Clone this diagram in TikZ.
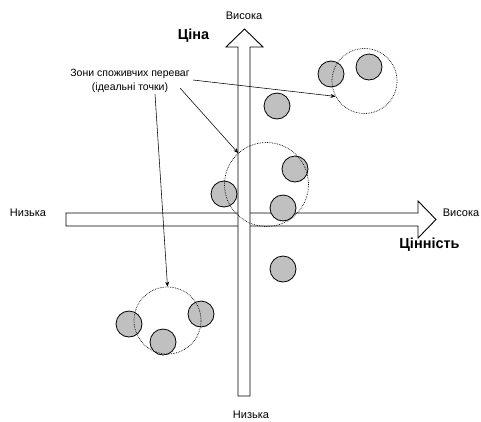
\documentclass[tikz,border=0pt]{standalone}
\usepackage{fontspec}
\setmainfont{Liberation Sans}
\usetikzlibrary{arrows.meta}
\definecolor{dotgray}{RGB}{192,192,192}
\tikzset{
  axisarrow/.style={draw=black, line width=0.9pt, fill=white, line join=miter},
  point/.style={circle, draw=black, line width=0.8pt, fill=dotgray, minimum size=26pt, inner sep=0pt},
  zone/.style={circle, draw=black, densely dotted, line width=0.7pt, inner sep=0pt},
  leader/.style={line width=0.55pt, -{Stealth[length=5pt,width=4pt]}},
  endlabel/.style={font=\fontsize{11}{13}\selectfont, inner sep=0pt},
  captionlabel/.style={font=\fontsize{10.5}{12.5}\selectfont, inner sep=0pt, align=center},
  axislabel/.style={font=\fontsize{14.5}{16}\selectfont\bfseries, inner sep=0pt},
}
\begin{document}
\begin{tikzpicture}[x=1pt, y=-1pt]
\useasboundingbox (0,0) rectangle (481,421);

% horizontal axis: value
\draw[axisarrow] (66,213) -- (418,213) -- (418,201) -- (436,219.5)
  -- (418,238) -- (418,226) -- (66,226) -- cycle;
% vertical axis: price
\draw[axisarrow] (238,396) -- (238,47) -- (226,47) -- (244.5,29)
  -- (263,47) -- (250,47) -- (250,396) -- cycle;

% axis labels
\node[endlabel] (ytop) at (244,16) {Висока};
\node[endlabel] (ybot) at (251,415) {Низька};
\node[endlabel] (xleft) at (28,213) {Низька};
\node[endlabel] (xright) at (461,213) {Висока};
\node[axislabel] (price) at (193.5,36) {Ціна};
\node[axislabel] (value) at (429.5,245) {Цінність};

% products
\node[point] (p1) at (331,74) {};
\node[point] (p2) at (369,67) {};
\node[point] (p3) at (277,106) {};
\node[point] (p4) at (295,169) {};
\node[point] (p5) at (224,194) {};
\node[point] (p6) at (283,208) {};
\node[point] (p7) at (283,269) {};
\node[point] (p8) at (129,324) {};
\node[point] (p9) at (163,342) {};
\node[point] (p10) at (201,314) {};

% preference zones
\node[zone, minimum size=65pt] (zoneA) at (364.5,81) {};
\node[zone, minimum size=84pt] (zoneB) at (266.5,184.5) {};
\node[zone, minimum size=67pt] (zoneC) at (167.5,320.5) {};

% caption and leaders
\node[captionlabel] (caption) at (130,80.5)
  {Зони споживчих переваг\\[1.5pt](ідеальні точки)};
\coordinate (sA) at (193,80);
\coordinate (sB) at (180,88);
\coordinate (sC) at (155,94);
\draw[leader] (sA) -- (zoneA.208);
\draw[leader] (sB) -- (zoneB.132);
\draw[leader] (sC) -- (zoneC.90);
\end{tikzpicture}
\end{document}
